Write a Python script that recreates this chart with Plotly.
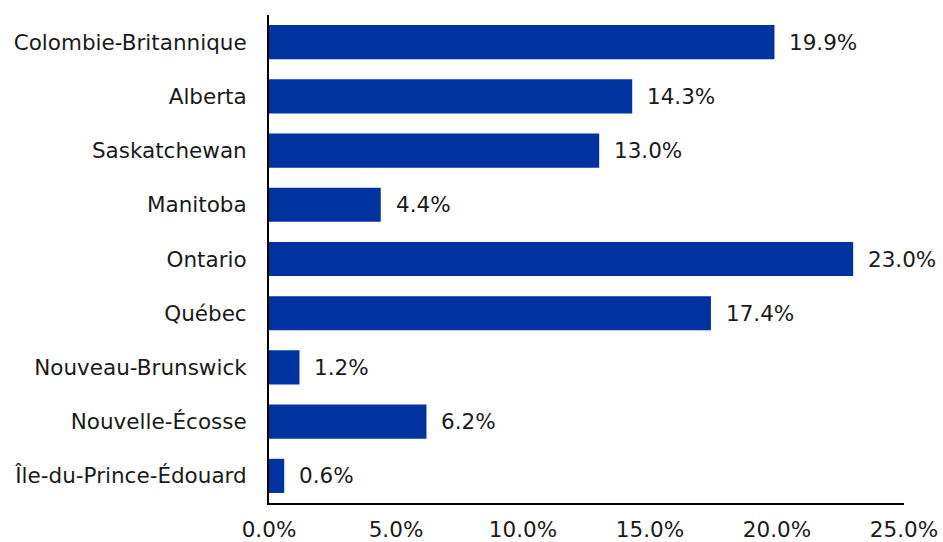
import plotly.graph_objects as go

provinces = [
    "Colombie-Britannique",
    "Alberta",
    "Saskatchewan",
    "Manitoba",
    "Ontario",
    "Québec",
    "Nouveau-Brunswick",
    "Nouvelle-Écosse",
    "Île-du-Prince-Édouard",
]
shares = [19.9, 14.3, 13.0, 4.4, 23.0, 17.4, 1.2, 6.2, 0.6]
tick_values = [0, 5, 10, 15, 20, 25]
tick_labels = ["0.0%", "5.0%", "10.0%", "15.0%", "20.0%", "25.0%"]

BAR_COLOR = "#0033a0"
TEXT_COLOR = "#1a1a1a"
FONT = dict(family="DejaVu Sans, Verdana, sans-serif", size=21.5, color=TEXT_COLOR)

fig = go.Figure(
    go.Bar(
        x=shares,
        y=provinces,
        orientation="h",
        marker=dict(color=BAR_COLOR, line=dict(width=0)),
        hoverinfo="skip",
    )
)

# value labels just past the end of each bar
for p, v in zip(provinces, shares):
    fig.add_annotation(
        x=v, y=p, text=f"{v:.1f}%", xanchor="left", yanchor="middle",
        xshift=13, showarrow=False, font=FONT,
    )

fig.update_layout(
    width=943,
    height=542,
    margin=dict(l=269, r=39, t=15, b=39),
    paper_bgcolor="white",
    plot_bgcolor="white",
    font=FONT,
    bargap=0.37,
    showlegend=False,
)
fig.update_xaxes(
    range=[0, 25],
    tickvals=tick_values,
    ticktext=tick_labels,
    showgrid=False,
    zeroline=False,
    showline=True,
    linecolor="black",
    linewidth=2,
    ticks="",
    ticklabelstandoff=6,
    automargin=False,
)
fig.update_yaxes(
    categoryorder="array",
    categoryarray=provinces,
    autorange="reversed",
    showgrid=False,
    zeroline=False,
    showline=True,
    linecolor="black",
    linewidth=2,
    ticks="",
    ticklabelstandoff=16,
    automargin=False,
)

fig.write_html("out.html")
